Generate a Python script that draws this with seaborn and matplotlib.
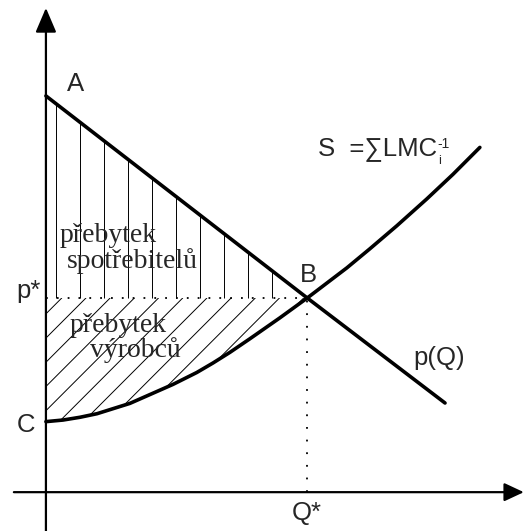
import numpy as np
import pandas as pd
import matplotlib
matplotlib.use("Agg")
import matplotlib.pyplot as plt
import seaborn as sns

# ---- data ----
demand_q = [0.0, 6.6, 10.08]
demand_p = [10.0, 4.9, 2.25]

supply_q = [0.0, 0.43, 0.86, 1.29, 2.12, 3.21, 3.81, 4.22, 4.65, 5.15, 5.91, 6.6,
            7.6, 8.18, 8.86, 9.62, 10.28, 10.96]
supply_p = [1.78, 1.82, 1.89, 1.98, 2.24, 2.72, 3.02, 3.26, 3.53, 3.87, 4.40, 4.90,
            5.66, 6.14, 6.72, 7.40, 8.02, 8.70]

q_star = 6.6
p_star = 4.9

point_labels = ["A", "B", "C"]
axis_labels = ["p*", "Q*"]
demand_label = "p(Q)"
supply_label = "S  =∑LMC"
supply_sup = "-1"
supply_sub = "i"
consumer_lines = ["přebytek", "spotřebitelů"]
producer_lines = ["přebytek", "výrobců"]

sns.set_theme(style="white")
plt.rcParams["font.family"] = ["Liberation Sans", "DejaVu Sans"]

fig = plt.figure(figsize=(5.25, 5.31), dpi=100)
ax = fig.add_axes([0, 0, 1, 1])
ax.set_xlim(-1.16, 12.10)
ax.set_ylim(-0.98, 12.42)
ax.axis("off")

df_d = pd.DataFrame({"Q": demand_q, "p": demand_p})
df_s = pd.DataFrame({"Q": supply_q, "p": supply_p})

# consumer surplus: vertical hatch lines between p* and the demand curve
xs = np.arange(0.25, q_star - 0.6, 0.606)
ax.vlines(xs, p_star, np.interp(xs, demand_q, demand_p), colors="black", lw=0.7, zorder=2)

# producer surplus: diagonal hatch lines clipped to the region
sq = np.array(supply_q)
sp = np.array(supply_p)
mask = sq <= q_star
region = ax.fill_between(sq[mask], sp[mask], p_star, color="none", lw=0)
clip = region.get_paths()[0]
for x0 in np.arange(0.40, q_star + 0.1, 0.611):
    ln, = ax.plot([x0 - 8, x0], [p_star - 8, p_star], color="black", lw=0.7, zorder=2)
    ln.set_clip_path(clip, ax.transData)

# dotted guides
ax.plot([0, q_star], [p_star, p_star], color="black", lw=1.3, ls=(0, (1, 5)), zorder=2)
ax.plot([q_star, q_star], [0, p_star], color="black", lw=1.3, ls=(0, (1, 6)), zorder=2)

# curves
sns.lineplot(data=df_d, x="Q", y="p", ax=ax, color="black", lw=2.6, sort=False, zorder=4)
sns.lineplot(data=df_s, x="Q", y="p", ax=ax, color="black", lw=2.6, sort=False, zorder=4)
ax.set_xlabel("")
ax.set_ylabel("")

# axes with arrows
ax.annotate("", xy=(0, 12.22), xytext=(0, -0.98),
            arrowprops=dict(arrowstyle="-|>,head_length=0.75,head_width=0.32",
                            mutation_scale=20, lw=1.6, color="black",
                            shrinkA=0, shrinkB=0), zorder=5)
ax.annotate("", xy=(12.07, 0), xytext=(-0.81, 0),
            arrowprops=dict(arrowstyle="-|>,head_length=0.6,head_width=0.28",
                            mutation_scale=20, lw=1.6, color="black",
                            shrinkA=0, shrinkB=0), zorder=5)

fs = 18.5
ax.text(0.53, 10.13, point_labels[0], fontsize=fs, ha="left", va="baseline")
ax.text(6.41, 5.30, point_labels[1], fontsize=fs, ha="left", va="baseline")
ax.text(-0.73, 1.52, point_labels[2], fontsize=fs, ha="left", va="baseline")
ax.text(-0.75, 4.9, axis_labels[0], fontsize=fs, ha="left", va="baseline")
ax.text(q_star, -0.71, axis_labels[1], fontsize=fs, ha="center", va="baseline")
ax.text(9.27, 3.21, demand_label, fontsize=fs, ha="left", va="baseline")
t = ax.text(6.87, 8.51, supply_label, fontsize=fs, ha="left", va="baseline")
ax.annotate(supply_sup, xy=(1, 1), xycoords=t, xytext=(0.5, 0), textcoords="offset points",
            fontsize=10, ha="left", va="top")
ax.annotate(supply_sub, xy=(1, 0), xycoords=t, xytext=(0.5, -2), textcoords="offset points",
            fontsize=9, ha="left", va="baseline")

serif = ["Liberation Serif", "DejaVu Serif"]
sfs = 20
ax.text(0.35, 6.31, consumer_lines[0], fontsize=sfs, family=serif, ha="left", va="baseline", zorder=6)
ax.text(0.53, 5.66, consumer_lines[1], fontsize=sfs, family=serif, ha="left", va="baseline", zorder=6)
ax.text(0.61, 4.04, producer_lines[0], fontsize=sfs, family=serif, ha="left", va="baseline", zorder=6)
ax.text(1.11, 3.41, producer_lines[1], fontsize=sfs, family=serif, ha="left", va="baseline", zorder=6)

fig.savefig("out.png", dpi=100, facecolor="white")
